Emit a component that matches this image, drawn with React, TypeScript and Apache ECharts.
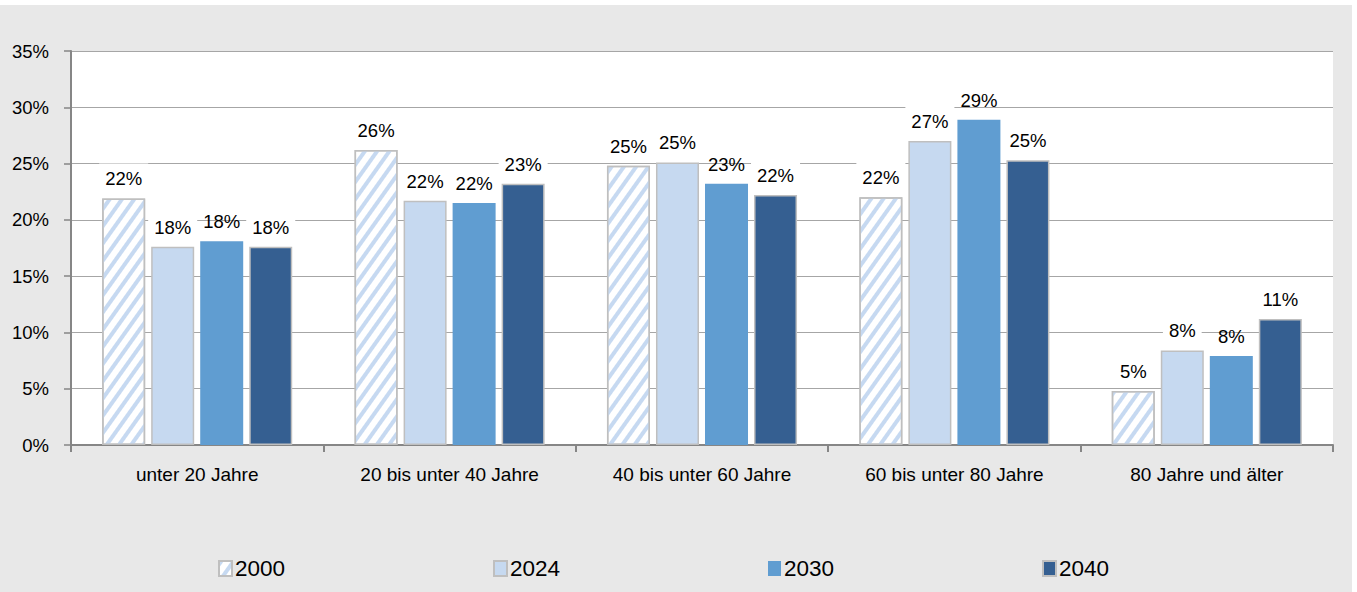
import React, { useEffect, useRef } from "react";
import * as echarts from "echarts";

const categories = [
  "unter 20 Jahre",
  "20 bis unter 40 Jahre",
  "40 bis unter 60 Jahre",
  "60 bis unter 80 Jahre",
  "80 Jahre und älter",
];
const years = ["2000", "2024", "2030", "2040"];
const values2000 = [21.9, 26.2, 24.8, 22.0, 4.8];
const values2024 = [17.6, 21.7, 25.1, 27.0, 8.4];
const values2030 = [18.1, 21.5, 23.2, 28.9, 7.9];
const values2040 = [17.6, 23.2, 22.2, 25.3, 11.2];
const yTicks = [0, 5, 10, 15, 20, 25, 30, 35];

const FONT = "'Liberation Sans', Arial, sans-serif";

export default function App() {
  const ref = useRef<HTMLDivElement>(null);
  useEffect(() => {
    if (!ref.current) return;
    const chart = echarts.init(ref.current, undefined, { renderer: "svg" });
    const border = "#bfbfbf";
    const labelBase = {
      show: true,
      position: "top",
      distance: 4,
      color: "#000",
      fontSize: 18.5,
      fontFamily: FONT,
      padding: [6, 6, 6, 6],
      formatter: (p: any) => Math.round(p.value) + "%",
    };
    const styles = [
      {
        color: "#ffffff",
        borderColor: border,
        borderWidth: 1.5,
        decal: {
          symbol: "rect",
          symbolSize: 1,
          color: "#c6d9f1",
          dashArrayX: [10, 0],
          dashArrayY: [3.5, 5.5],
          rotation: -Math.PI / 3.3,
        },
      },
      { color: "#c6d9f0", borderColor: border, borderWidth: 1.5 },
      { color: "#609dd1", borderColor: "#609dd1", borderWidth: 0 },
      { color: "#355f91", borderColor: border, borderWidth: 1.5 },
    ];
    const data = [values2000, values2024, values2030, values2040];
    const legendLeft = [218, 493, 768, 1042];
    chart.setOption({
      animation: false,
      backgroundColor: "#e8e8e8",
      textStyle: { fontFamily: FONT },
      grid: {
        left: 71,
        right: 19,
        top: 46,
        bottom: 147,
        show: true,
        backgroundColor: "#ffffff",
        borderWidth: 0,
      },
      legend: years.map((y, i) => ({
        data: [y],
        left: legendLeft[i],
        top: 552,
        padding: 0,
        itemWidth: 13,
        itemHeight: 15,
        icon: "rect",
        textStyle: { fontSize: 22.5, color: "#000", fontFamily: FONT, padding: [0, 0, 0, -2] },
      })),
      xAxis: {
        type: "category",
        data: categories,
        axisLine: { lineStyle: { color: "#868686", width: 2 } },
        axisTick: { show: true, length: 7, lineStyle: { color: "#868686", width: 2 } },
        axisLabel: { color: "#000", fontSize: 19, margin: 20, interval: 0, fontFamily: FONT },
      },
      yAxis: {
        type: "value",
        min: 0,
        max: 35,
        interval: 5,
        axisLine: { show: true, lineStyle: { color: "#868686", width: 2 } },
        axisTick: { show: true, length: 7, lineStyle: { color: "#868686", width: 1.5 } },
        axisLabel: {
          color: "#000",
          fontSize: 18.5,
          margin: 22,
          fontFamily: FONT,
          formatter: (v: number) => (yTicks.includes(v) ? v + "%" : ""),
        },
        splitLine: { lineStyle: { color: "#a6a6a6", width: 1.2 } },
      },
      series: years.map((y, i) => ({
        name: y,
        type: "bar",
        data: data[i],
        barWidth: 43,
        barGap: "14%",
        itemStyle: styles[i],
        label: i === 2 ? { ...labelBase } : { ...labelBase, backgroundColor: "#ffffff" },
      })),
    });
    return () => chart.dispose();
  }, []);
  return (
    <div style={{ position: "fixed", left: 0, top: 0, width: 1357, height: 592, background: "#fff" }}>
      <div ref={ref} style={{ position: "absolute", left: 0, top: 5, width: 1352, height: 587 }} />
    </div>
  );
}
